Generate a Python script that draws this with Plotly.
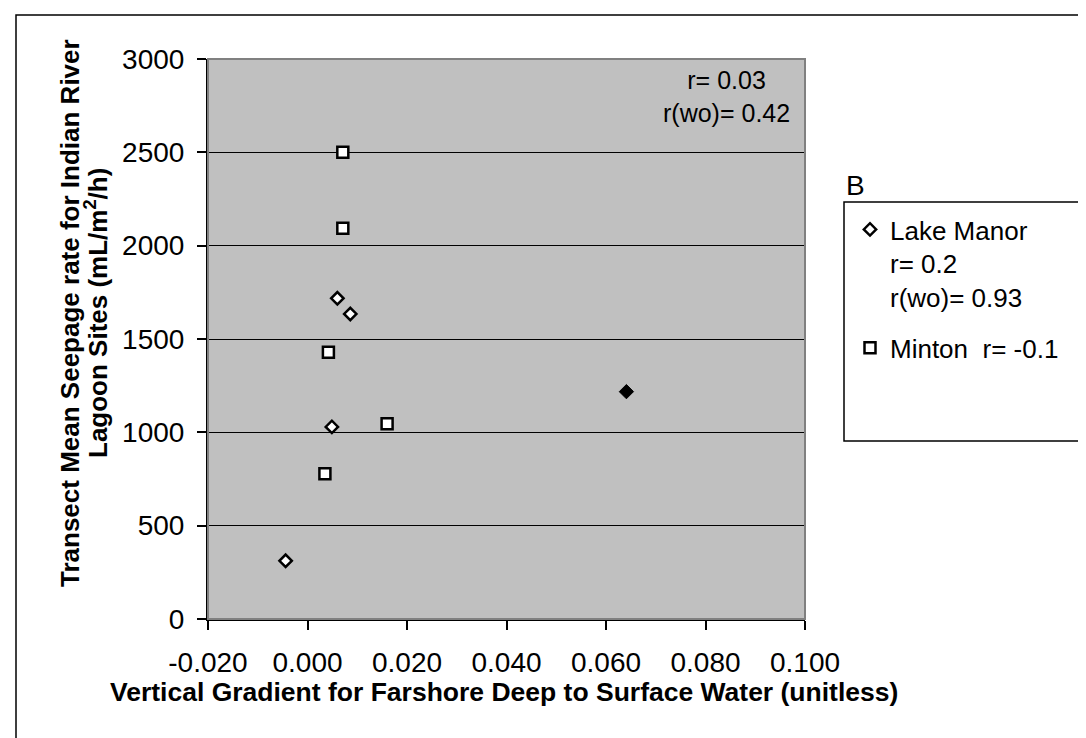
import plotly.graph_objects as go

# Lake Manor transects (open diamonds) and the outlier (filled diamond)
lake_manor_x = [-0.0044, 0.0049, 0.0060, 0.0086]
lake_manor_y = [312, 1029, 1718, 1634]
outlier_x = [0.0641]
outlier_y = [1218]

# Minton transects (open squares)
minton_x = [0.0035, 0.0042, 0.0160, 0.0071, 0.0071]
minton_y = [778, 1429, 1046, 2093, 2500]

x_ticks = [-0.02, 0.0, 0.02, 0.04, 0.06, 0.08, 0.10]
x_tick_labels = ["-0.020", "0.000", "0.020", "0.040", "0.060", "0.080", "0.100"]
y_ticks = [0, 500, 1000, 1500, 2000, 2500, 3000]

W, H = 1086, 738
L, R, T, B = 200, 797, 51, 611


def px(x):
    return (x - L) / (R - L)


def py(y):
    return (B - y) / (B - T)


font = "Liberation Sans, Arial, sans-serif"

fig = go.Figure()

fig.add_trace(go.Scatter(
    x=lake_manor_x, y=lake_manor_y, mode="markers",
    name="Lake Manor<br>r= 0.2<br>r(wo)= 0.93", legendgroup="lake",
    marker=dict(symbol="diamond", size=9.5, color="white",
                line=dict(color="black", width=2.5)),
))
fig.add_trace(go.Scatter(
    x=minton_x, y=minton_y, mode="markers",
    name="Minton  r= -0.1", legendgroup="minton",
    marker=dict(symbol="square", size=11, color="white",
                line=dict(color="black", width=2.5)),
))
fig.add_trace(go.Scatter(
    x=outlier_x, y=outlier_y, mode="markers", showlegend=False,
    legendgroup="lake",
    marker=dict(symbol="diamond", size=11, color="black",
                line=dict(color="black", width=1)),
))

fig.update_layout(
    width=W, height=H,
    margin=dict(l=L, r=W - R, t=T, b=H - B),
    paper_bgcolor="white",
    plot_bgcolor="#c0c0c0",
    font=dict(family=font, size=28, color="black"),
    showlegend=True,
    legend=dict(
        x=px(842), y=py(198), xanchor="left", yanchor="top",
        bgcolor="rgba(0,0,0,0)", borderwidth=0, valign="top",
        font=dict(size=26), traceorder="grouped", tracegroupgap=14,
    ),
)

fig.update_xaxes(
    range=[-0.02, 0.10], tickvals=x_ticks, ticktext=x_tick_labels,
    showgrid=False, zeroline=False,
    showline=True, linecolor="black", linewidth=2,
    ticks="outside", ticklen=9, tickcolor="black", tickwidth=1.5,
    tickfont=dict(size=28), ticklabelstandoff=8,
)
fig.update_yaxes(
    range=[0, 3000], tickvals=y_ticks,
    showgrid=True, gridcolor="black", gridwidth=1, zeroline=False,
    showline=True, linecolor="black", linewidth=2,
    ticks="outside", ticklen=9, tickcolor="black", tickwidth=1.5,
    tickfont=dict(size=28), ticklabelstandoff=7,
)

# plot frame on top and right
fig.add_shape(type="rect", xref="paper", yref="paper", x0=0, y0=0, x1=1, y1=1,
              line=dict(color="#808080", width=2))
# outer chart border
fig.add_shape(type="rect", xref="paper", yref="paper",
              x0=px(8), y0=py(760), x1=px(1100), y1=py(7),
              line=dict(color="black", width=1.5))
# legend box
fig.add_shape(type="rect", xref="paper", yref="paper",
              x0=px(836), y0=py(433), x1=px(1100), y1=py(194),
              line=dict(color="black", width=1.5))

fig.add_annotation(
    xref="paper", yref="paper", x=px(718), y=py(89), showarrow=False,
    xanchor="center", yanchor="middle",
    text="r= 0.03<br>r(wo)= 0.42", align="center", font=dict(size=25),
)
fig.add_annotation(
    xref="paper", yref="paper", x=px(836), y=py(177), showarrow=False,
    xanchor="left", yanchor="middle", text="B", font=dict(size=28),
)
fig.add_annotation(
    xref="paper", yref="paper", x=px(496), y=py(684), showarrow=False,
    xanchor="center", yanchor="middle",
    text="<b>Vertical Gradient for Farshore Deep to Surface Water (unitless)</b>",
    font=dict(size=26.5),
)
fig.add_annotation(
    xref="paper", yref="paper", x=px(62), y=py(305), showarrow=False,
    xanchor="center", yanchor="middle", textangle=-90,
    text="<b>Transect Mean Seepage rate for Indian River</b>",
    font=dict(size=26),
)
fig.add_annotation(
    xref="paper", yref="paper", x=px(88), y=py(305), showarrow=False,
    xanchor="center", yanchor="middle", textangle=-90,
    text="<b>Lagoon Sites (mL/m<sup>2</sup>/h)</b>",
    font=dict(size=26),
)

fig.write_html("out.html")
